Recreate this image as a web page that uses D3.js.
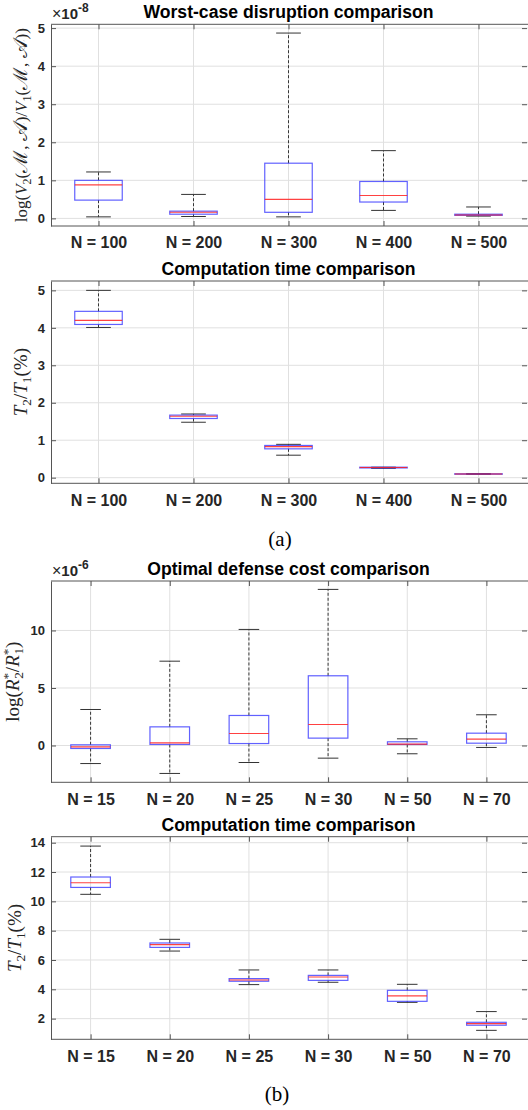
<!DOCTYPE html>
<html>
<head>
<meta charset="utf-8">
<script src="https://cdn.jsdelivr.net/npm/d3@7"></script>
<style>
  body { margin: 0; background: #fff; }
  svg { display: block; }
  .tick text { fill: #262626; }
</style>
</head>
<body>
<div id="chart"></div>
<script>
// categories
var groupsA = ["N = 100", "N = 200", "N = 300", "N = 400", "N = 500"];
var groupsB = ["N = 15", "N = 20", "N = 25", "N = 30", "N = 50", "N = 70"];

// box stats per group: [lower whisker, q1, median, q3, upper whisker]
var disruptStats = [   // x 1e-8
  [0.04, 0.48, 0.88, 1.00, 1.22],
  [0.05, 0.11, 0.16, 0.19, 0.63],
  [0.04, 0.16, 0.50, 1.45, 4.87],
  [0.21, 0.43, 0.60, 0.97, 1.78],
  [0.06, 0.08, 0.09, 0.11, 0.30]
];
var timeStatsA = [     // %
  [4.01, 4.09, 4.20, 4.44, 5.00],
  [1.48, 1.58, 1.64, 1.67, 1.70],
  [0.60, 0.77, 0.83, 0.86, 0.89],
  [0.25, 0.26, 0.27, 0.28, 0.28],
  [0.09, 0.095, 0.10, 0.105, 0.11]
];
var costStats = [      // x 1e-6
  [-1.57, -0.26, -0.12, 0.06, 3.13],
  [-2.43, 0.09, 0.23, 1.62, 7.33],
  [-1.48, 0.17, 1.04, 2.61, 10.09],
  [-1.10, 0.64, 1.83, 6.06, 13.57],
  [-0.72, 0.09, 0.12, 0.32, 0.58],
  [-0.17, 0.20, 0.55, 1.07, 2.67]
];
var timeStatsB = [     // %
  [10.48, 10.95, 11.27, 11.66, 13.77],
  [6.61, 6.86, 7.05, 7.16, 7.41],
  [4.32, 4.55, 4.64, 4.73, 5.32],
  [4.48, 4.61, 4.84, 4.95, 5.32],
  [3.11, 3.18, 3.55, 3.93, 4.34],
  [1.20, 1.55, 1.66, 1.75, 2.48]
];

var ticksA1 = [0, 1, 2, 3, 4, 5];
var ticksA2 = [0, 1, 2, 3, 4, 5];
var ticksB1 = [0, 5, 10];
var ticksB2 = [2, 4, 6, 8, 10, 12, 14];

var W = 528, H = 1110;
var svg = d3.select("#chart").append("svg")
  .attr("width", W).attr("height", H)
  .style("font-family", "'Liberation Sans', Arial, sans-serif");

var L = 51, R = 526, RT = 527;

function drawPanel(p) {
  var n = p.cats.length;
  var x = d3.scaleLinear().domain([0.5, n + 0.5]).range([L, R]);
  var y = d3.scaleLinear().domain(p.yDomain).range([p.bottom, p.top]);
  var g = svg.append("g");

  // grid
  g.append("g").selectAll("line").data(p.yTicks).enter().append("line")
    .attr("x1", L).attr("x2", W)
    .attr("y1", function(d){ return y(d); }).attr("y2", function(d){ return y(d); })
    .attr("stroke", "#e0e0e0").attr("stroke-width", 1);
  g.append("g").selectAll("line").data(d3.range(1, n + 1)).enter().append("line")
    .attr("x1", function(d){ return x(d); }).attr("x2", function(d){ return x(d); })
    .attr("y1", p.top).attr("y2", p.bottom)
    .attr("stroke", "#e0e0e0").attr("stroke-width", 1);

  // axes (ticks inside, MATLAB style)
  var xb = g.append("g").attr("transform", "translate(0," + p.bottom + ")")
    .call(d3.axisBottom(x).tickValues(d3.range(1, n + 1))
      .tickFormat(function(i){ return p.cats[i - 1]; })
      .tickSizeInner(-5).tickSizeOuter(0).tickPadding(11));
  xb.selectAll("text").style("font-size", "16px").style("font-weight", "bold");
  var xt = g.append("g").attr("transform", "translate(0," + p.top + ")")
    .call(d3.axisTop(x).tickValues(d3.range(1, n + 1)).tickFormat("")
      .tickSizeInner(-5).tickSizeOuter(0));
  var yl = g.append("g").attr("transform", "translate(" + L + ",0)")
    .call(d3.axisLeft(y).tickValues(p.yTicks).tickFormat(d3.format("d"))
      .tickSizeInner(-5).tickSizeOuter(0).tickPadding(6));
  yl.selectAll("text").style("font-size", "13px").style("font-weight", "bold");
  var yr = g.append("g").attr("transform", "translate(" + RT + ",0)")
    .call(d3.axisRight(y).tickValues(p.yTicks).tickFormat("")
      .tickSizeInner(-5).tickSizeOuter(0));
  yr.select(".domain").remove();
  g.selectAll(".domain").attr("stroke", "#555");
  g.selectAll(".tick line").attr("stroke", "#555");
  xb.select(".domain").attr("d", "M" + L + ",0H" + W);
  xt.select(".domain").attr("d", "M" + L + ",0H" + W);

  // boxes
  var bw = 0.25, cw = 0.13;
  var box = g.append("g").selectAll("g").data(p.stats).enter().append("g");
  box.append("line")
    .attr("x1", function(d, i){ return x(i + 1); }).attr("x2", function(d, i){ return x(i + 1); })
    .attr("y1", function(d){ return y(d[3]); }).attr("y2", function(d){ return y(d[4]); })
    .attr("stroke", "#222").attr("stroke-width", 0.9).attr("stroke-dasharray", "3,2");
  box.append("line")
    .attr("x1", function(d, i){ return x(i + 1); }).attr("x2", function(d, i){ return x(i + 1); })
    .attr("y1", function(d){ return y(d[1]); }).attr("y2", function(d){ return y(d[0]); })
    .attr("stroke", "#222").attr("stroke-width", 0.9).attr("stroke-dasharray", "3,2");
  [0, 4].forEach(function(k) {
    box.append("line")
      .attr("x1", function(d, i){ return x(i + 1 - cw); }).attr("x2", function(d, i){ return x(i + 1 + cw); })
      .attr("y1", function(d){ return y(d[k]); }).attr("y2", function(d){ return y(d[k]); })
      .attr("stroke", "#333").attr("stroke-width", 1);
  });
  box.append("rect")
    .attr("x", function(d, i){ return x(i + 1 - bw); })
    .attr("width", x(1 + bw) - x(1 - bw))
    .attr("y", function(d){ return y(d[3]); })
    .attr("height", function(d){ return Math.max(0.5, y(d[1]) - y(d[3])); })
    .attr("fill", "none").attr("stroke", "#3a3aff").attr("stroke-opacity", 0.8).attr("stroke-width", 1.2);
  box.append("line")
    .attr("x1", function(d, i){ return x(i + 1 - bw); }).attr("x2", function(d, i){ return x(i + 1 + bw); })
    .attr("y1", function(d){ return y(d[2]); }).attr("y2", function(d){ return y(d[2]); })
    .attr("stroke", "#ff2020").attr("stroke-opacity", 0.85).attr("stroke-width", 1.1);

  // title
  svg.append("text").attr("x", (L + R) / 2).attr("y", p.top - 6)
    .attr("text-anchor", "middle").style("font-size", "17.6px").style("font-weight", "bold")
    .attr("fill", "#000").text(p.title);

  // exponent
  if (p.exp) {
    var ex = svg.append("text").attr("x", 52).attr("y", p.top - 5).attr("fill", "#262626");
    ex.append("tspan").style("font-size", "16px").text("×");
    ex.append("tspan").style("font-size", "15px").style("font-weight", "bold").text("10");
    ex.append("tspan").attr("dy", -7).style("font-size", "12px").style("font-weight", "bold").text(p.exp);
  }

  // y label
  var fs = p.labSize, small = fs * 0.7;
  var lab = svg.append("text")
    .attr("transform", "translate(" + p.labX + "," + ((p.top + p.bottom) / 2) + ") rotate(-90)")
    .attr("text-anchor", "middle")
    .style("font-family", "'Liberation Serif', 'Times New Roman', serif")
    .style("font-size", fs + "px").attr("fill", "#262626");
  p.label.forEach(function(s) {
    var t = lab.append("tspan").text(s[0]);
    var kind = s[1];
    if (kind === "i") t.style("font-style", "italic");
    if (kind === "scr") t.style("font-size", (fs * 1.15) + "px").style("font-family", "'DejaVu Serif', serif");
    if (kind === "sub") t.style("font-size", small + "px").attr("dy", 4);
    if (kind === "subup") t.attr("dy", -4);
    if (kind === "sup") t.style("font-size", small + "px").attr("dy", -7);
    if (kind === "supsub") t.style("font-size", small + "px").attr("dy", 11).attr("dx", -6);
    if (kind === "down") t.attr("dy", -4);
  });
}

drawPanel({
  cats: groupsA, stats: disruptStats, top: 24.3, bottom: 226,
  yDomain: [-0.2, 5.1], yTicks: ticksA1,
  title: "Worst-case disruption comparison", exp: "-8",
  labX: 27, labSize: 17,
  label: [["log("], ["V", "i"], ["2", "sub"], ["(", "subup"], ["ℳ", "scr"], [", "], ["𝒜", "scr"], [")/"],
          ["V", "i"], ["1", "sub"], ["(", "subup"], ["ℳ", "scr"], [", "], ["𝒜", "scr"], ["))"]]
});
drawPanel({
  cats: groupsA, stats: timeStatsA, top: 281, bottom: 483.3,
  yDomain: [-0.15, 5.25], yTicks: ticksA2,
  title: "Computation time comparison",
  labX: 26.5, labSize: 19,
  label: [["T", "i"], ["2", "sub"], ["/", "subup"], ["T", "i"], ["1", "sub"], ["(%)", "subup"]]
});
drawPanel({
  cats: groupsB, stats: costStats, top: 581, bottom: 782.3,
  yDomain: [-3.2, 14.3], yTicks: ticksB1,
  title: "Optimal defense cost comparison", exp: "-6",
  labX: 18.5, labSize: 19,
  label: [["log("], ["R", "i"], ["*", "sup"], ["2", "supsub"], ["/", "down"], ["R", "i"], ["*", "sup"], ["1", "supsub"], [")", "down"]]
});
drawPanel({
  cats: groupsB, stats: timeStatsB, top: 836.7, bottom: 1039.3,
  yDomain: [0.59, 14.41], yTicks: ticksB2,
  title: "Computation time comparison",
  labX: 20.5, labSize: 19,
  label: [["T", "i"], ["2", "sub"], ["/", "subup"], ["T", "i"], ["1", "sub"], ["(%)", "subup"]]
});

// captions
svg.append("text").attr("x", 280).attr("y", 546).attr("text-anchor", "middle")
  .style("font-family", "'Liberation Serif', 'Times New Roman', serif").style("font-size", "21px")
  .text("(a)");
svg.append("text").attr("x", 277).attr("y", 1101).attr("text-anchor", "middle")
  .style("font-family", "'Liberation Serif', 'Times New Roman', serif").style("font-size", "21px")
  .text("(b)");
</script>
</body>
</html>
